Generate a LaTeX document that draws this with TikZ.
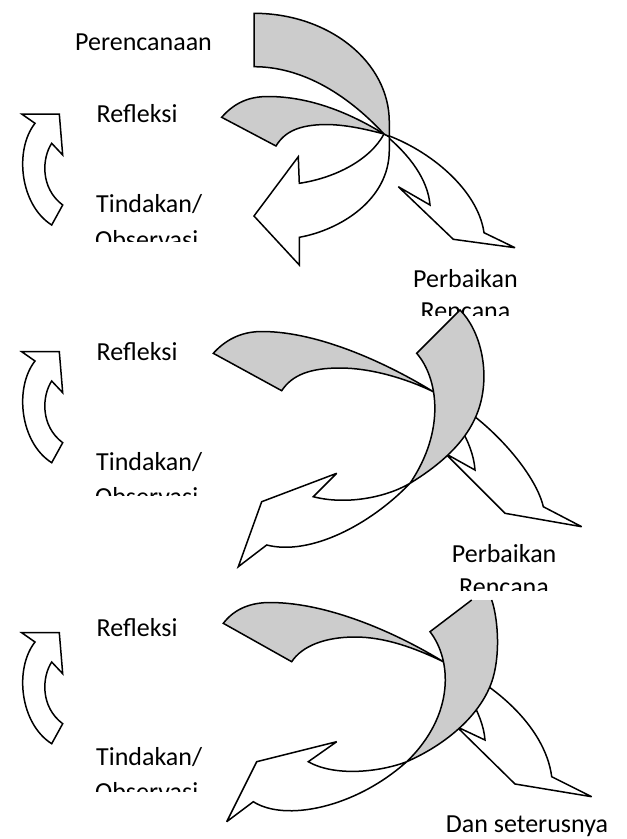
\documentclass[tikz,border=0pt]{standalone}
\usepackage{fontspec}
\setmainfont{Carlito}
\definecolor{bandgray}{HTML}{CCCCCC}
\tikzset{
  outl/.style={draw=black, line width=1.5pt, line join=miter, miter limit=4},
  grayshape/.style={outl, fill=bandgray},
  whiteshape/.style={outl, fill=white},
  lbl/.style={anchor=base west, inner sep=0pt, font=\fontsize{26}{31}\selectfont},
}
\begin{document}
\begin{tikzpicture}[x=1pt,y=-1pt]
\useasboundingbox (0,0) rectangle (627,839);

% ---------- left curved arrows ----------
\foreach \s in {0,237.7,518.7}{
  \begin{scope}[shift={(0,\s)}]
    \draw[whiteshape] (21.7,114) -- (59.3,114) -- (62.7,155) -- (51.7,143.3)
      .. controls (42,158) and (40,188) .. (62.7,205) -- (51.7,225)
      .. controls (20,205) and (14,150) .. (35,123.3) -- cycle;
  \end{scope}
}

% ---------- labels ----------
\node[lbl] (per) at (75,50) {Perencanaan};
\node[lbl] (ref1) at (96.5,122.3) {Refleksi};
\node[lbl] (tin1) at (96,212.7) {Tindakan/};
\begin{scope}
  \clip (80,220) rectangle (230,241.7);
  \node[lbl] (obs1) at (95,248) {Observasi};
\end{scope}
\node[lbl] (pb1) at (413,287.7) {Perbaikan};
\begin{scope}
  \clip (400,295) rectangle (540,315);
  \node[lbl] (rc1) at (420.5,319.5) {Rencana};
\end{scope}

\node[lbl] (ref2) at (96.5,360.7) {Refleksi};
\node[lbl] (tin2) at (96,470) {Tindakan/};
\begin{scope}
  \clip (80,480) rectangle (230,495.7);
  \node[lbl] (obs2) at (95,505.5) {Observasi};
\end{scope}
\node[lbl] (pb2) at (451.7,562.7) {Perbaikan};
\begin{scope}
  \clip (440,572) rectangle (580,590);
  \node[lbl] (rc2) at (459,595) {Rencana};
\end{scope}

\node[lbl] (ref3) at (96.5,636) {Refleksi};
\node[lbl] (tin3) at (96,765) {Tindakan/};
\begin{scope}
  \clip (80,775) rectangle (230,791.7);
  \node[lbl] (obs3) at (95,800.5) {Observasi};
\end{scope}
\node[lbl] (dan) at (445.7,832) {Dan seterusnya};

% ---------- panel 1 ----------
\draw[whiteshape] (384,134) .. controls (410,155) and (428,180) .. (430,205)
  -- (398.3,186.7) -- (453.3,239.3) -- (515,247.7) -- (484,232.7)
  .. controls (478,190) and (430,150) .. (384,134) -- cycle;
\draw[whiteshape] (384,134) .. controls (370,160) and (335,178) .. (299.3,183.3)
  -- (298.3,156.7) -- (254,216) -- (299.3,265) -- (299.3,237.3)
  .. controls (340,230) and (389.3,200) .. (389.3,150) -- (389.3,136.7) -- cycle;
\draw[grayshape] (254,13.3) .. controls (328.7,13.3) and (389.3,61.8) .. (389.3,122)
  -- (389.3,136.7) -- (384,134)
  .. controls (345,92) and (300,66.7) .. (254,66.7) -- cycle;
\draw[grayshape] (221.7,117.3) .. controls (235,102) and (250,96.5) .. (268,96.5)
  .. controls (310,96.5) and (350,113) .. (384,134)
  .. controls (365,129) and (345,124.5) .. (325,124.5)
  .. controls (300,125) and (285,131) .. (276,146) -- cycle;

% ---------- panel 2 ----------
\draw[whiteshape] (433.3,391.7) .. controls (450,410) and (473,440) .. (475,470)
  -- (445,453.3) -- (505,513.3) -- (581.7,526.7) -- (543.3,506.7)
  .. controls (535,470) and (480,410) .. (433.3,391.7) -- cycle;
\draw[grayshape] (213.3,353.3) .. controls (228,337) and (245,331.5) .. (262,331.5)
  .. controls (320,331.5) and (390,365) .. (433.3,391.7)
  .. controls (405,378) and (370,368) .. (340,368)
  .. controls (310,368) and (292,375) .. (281.7,390.7) -- cycle;
\draw[grayshape] (460,310) .. controls (480,330) and (490,370) .. (480,405)
  .. controls (470,440) and (440,465) .. (410,483.3)
  .. controls (446,430) and (438,378) .. (416.7,353.3) -- cycle;
\draw[whiteshape] (410,483.3) .. controls (385,498) and (345,505) .. (313.3,496.7)
  -- (336.7,473.3) -- (261.7,501.7) -- (238.3,566.7) -- (266.7,545)
  .. controls (310,556) and (370,525) .. (410,483.3) -- cycle;

% ---------- panel 3 ----------
\draw[whiteshape] (443.3,661.7) .. controls (460,680) and (483,712) .. (485,740)
  -- (456.7,726.7) -- (515,784) -- (591.7,796.7) -- (551.7,776.7)
  .. controls (545,725) and (490,680) .. (443.3,661.7) -- cycle;
\draw[grayshape] (223.3,623.3) .. controls (235,608) and (252,602.5) .. (270,602.5)
  .. controls (330,602.5) and (400,635) .. (443.3,661.7)
  .. controls (415,648) and (385,637) .. (355,637)
  .. controls (325,637) and (302,646) .. (291.7,661.7) -- cycle;
\fill[bandgray] (471.7,600) -- (430,631.7)
  .. controls (452,660) and (455,715) .. (406.7,761.7)
  .. controls (445,745) and (482,715) .. (493,678)
  .. controls (501,650) and (497,615) .. (491.7,600) -- cycle;
\draw[outl] (471.7,600) -- (430,631.7)
  .. controls (452,660) and (455,715) .. (406.7,761.7)
  .. controls (445,745) and (482,715) .. (493,678)
  .. controls (501,650) and (497,615) .. (491.7,600);
\draw[whiteshape] (406.7,761.7) .. controls (380,772) and (335,777) .. (308.3,761.7)
  -- (336.7,741.7) -- (256.7,761.7) -- (226.7,821.7) -- (253.3,801.7)
  .. controls (285,822) and (355,808) .. (406.7,761.7) -- cycle;
\end{tikzpicture}
\end{document}
